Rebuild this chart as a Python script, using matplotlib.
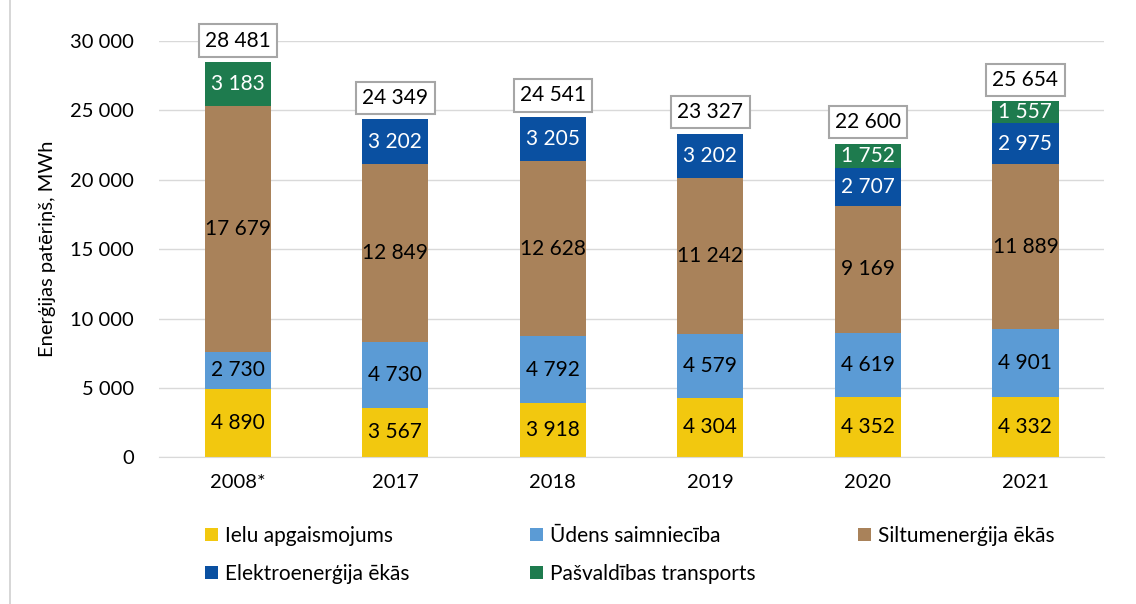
import numpy as np
import matplotlib
matplotlib.use("Agg")
from matplotlib import pyplot as plt
from matplotlib.lines import Line2D

plt.rcParams['font.family'] = ['Lato', 'DejaVu Sans']

years = ['2008*', '2017', '2018', '2019', '2020', '2021']
ielu = [4890, 3567, 3918, 4304, 4352, 4332]
udens = [2730, 4730, 4792, 4579, 4619, 4901]
siltums = [17679, 12849, 12628, 11242, 9169, 11889]
elektro = [0, 3202, 3205, 3202, 2707, 2975]
transports = [3183, 0, 0, 0, 1752, 1557]
totals = [28481, 24349, 24541, 23327, 22600, 25654]

series = [
    ('Ielu apgaismojums', ielu, '#F2C80F', 'black'),
    ('Ūdens saimniecība', udens, '#5B9BD5', 'black'),
    ('Siltumenerģija ēkās', siltums, '#A9825A', 'black'),
    ('Elektroenerģija ēkās', elektro, '#0A50A1', 'white'),
    ('Pašvaldības transports', transports, '#1E7B4E', 'white'),
]

def fmt(v):
    return f'{v:,.0f}'.replace(',', ' ')

fig = plt.figure(figsize=(11.36, 6.04), dpi=100)
ax = fig.add_axes([0.14, 0.243, 0.832, 0.689])

x = np.arange(len(years))
bottom = np.zeros(len(years))
handles = []
for name, vals, color, tcol in series:
    vals = np.array(vals, dtype=float)
    bars = ax.bar(x, vals, 0.42, bottom=bottom, color=color, label=name, zorder=2)
    handles.append(bars)
    for xi, b, v in zip(x, bottom, vals):
        if v > 0:
            ax.text(xi, b + v / 2, fmt(v), ha='center', va='center',
                    color=tcol, fontsize=15, zorder=3)
    bottom += vals

for xi, t, top in zip(x, totals, bottom):
    ax.text(xi, top + 1550, fmt(t), ha='center', va='center', fontsize=15,
            bbox=dict(boxstyle='square,pad=0.3', fc='white', ec='#A6A6A6', lw=1.5),
            zorder=4)

ax.set_xlim(-0.5, len(years) - 0.5)
ax.set_ylim(0, 30000)
ax.set_yticks(np.arange(0, 30001, 5000))
ax.set_yticklabels([fmt(v) for v in np.arange(0, 30001, 5000)], fontsize=14.5)
ax.set_xticks(x)
ax.set_xticklabels(years, fontsize=14.5)
ax.tick_params(length=0, pad=12)
ax.tick_params(axis='y', pad=18)
ax.grid(axis='y', color='#D9D9D9', lw=1, zorder=0)
for s in ['top', 'right', 'left']:
    ax.spines[s].set_visible(False)
ax.spines['bottom'].set_color('#D9D9D9')
ax.set_ylabel('Enerģijas patēriņš, MWh', fontsize=14.5, labelpad=10)

# legend as three columns, filled row by row
columns = [([0, 3], 205), ([1, 4], 530), ([2], 858)]
for idx, xpix in columns:
    leg = fig.legend([handles[i] for i in idx], [series[i][0] for i in idx],
                     loc='upper left', bbox_to_anchor=(xpix / 1136, 1 - 526 / 604),
                     frameon=False, fontsize=15, handlelength=0.6, handleheight=0.6,
                     handletextpad=0.35, labelspacing=0.85, borderpad=0,
                     borderaxespad=0)

fig.add_artist(Line2D([0.009, 0.009], [0, 1], transform=fig.transFigure,
                      color='#D0D0D0', lw=1.2))

fig.savefig('out.png', dpi=100)
